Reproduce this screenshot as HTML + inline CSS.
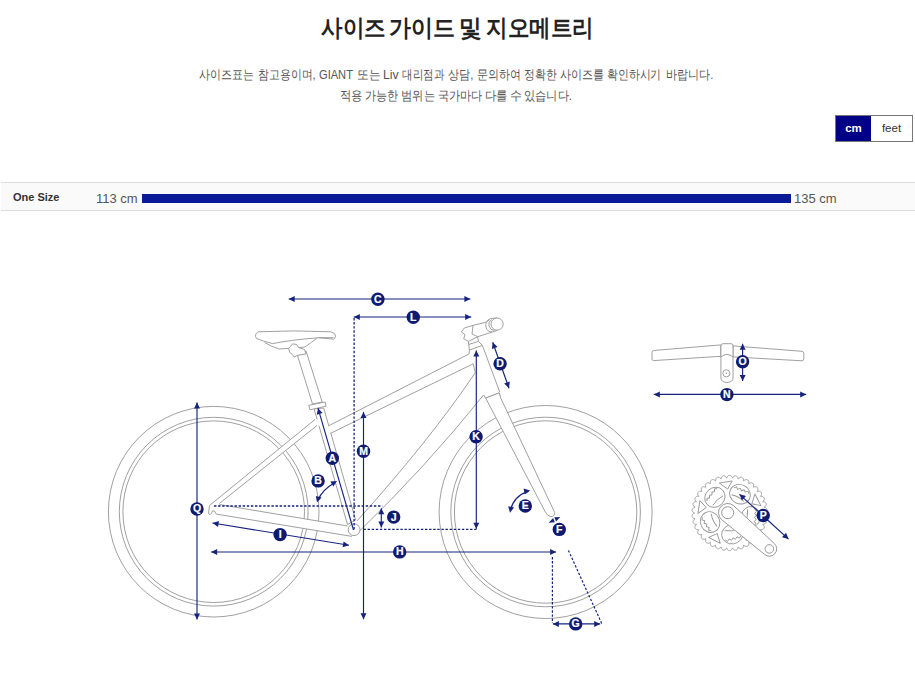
<!DOCTYPE html>
<html><head><meta charset="utf-8">
<style>
html,body{margin:0;padding:0;background:#fff;width:915px;height:674px;overflow:hidden;font-family:"Liberation Sans",sans-serif;color:#333;position:relative;}
.w{position:absolute;white-space:nowrap;line-height:1;transform-origin:0 0;}
#tog{position:absolute;left:835px;top:115px;width:78px;height:27px;border:1px solid #777;box-sizing:border-box;font-size:11px;}
#tog .cm{position:absolute;left:0;top:0;width:35px;height:25px;background:#000087;color:#fff;text-align:center;line-height:25px;font-weight:bold;font-size:11.5px;}
#tog .ft{position:absolute;left:35px;top:0;width:41px;height:25px;color:#333;text-align:center;line-height:25px;font-size:11.5px;}
#row{position:absolute;left:1px;top:182px;width:914px;height:29px;border-top:1px solid #ddd;border-bottom:1px solid #ddd;background:#fafafa;box-sizing:border-box;}
#row .lab{position:absolute;left:12px;top:8px;font-size:11px;font-weight:bold;color:#333;}
#row .v1{position:absolute;left:95px;top:8px;font-size:13px;color:#555;}
#row .v2{position:absolute;left:793px;top:8px;font-size:13px;color:#555;}
#row .bar{position:absolute;left:141px;top:11px;width:649px;height:9px;background:#0a1a99;}
svg{position:absolute;left:0;top:0;}
</style></head><body>
<span class="w" style="left:320.5px;top:16px;font-size:24px;font-weight:bold;transform:scaleX(0.8971);color:#222">사이즈</span>
<span class="w" style="left:389.4px;top:16px;font-size:24px;font-weight:bold;transform:scaleX(0.9171);color:#222">가이드</span>
<span class="w" style="left:458.8px;top:16px;font-size:24px;font-weight:bold;transform:scaleX(0.9429);color:#222">및</span>
<span class="w" style="left:485.8px;top:16px;font-size:24px;font-weight:bold;transform:scaleX(0.8966);color:#222">지오메트리</span>
<span class="w" style="left:199.2px;top:68px;font-size:13px;font-weight:normal;transform:scaleX(0.8444);color:#555">사이즈표는</span>
<span class="w" style="left:258.3px;top:68px;font-size:13px;font-weight:normal;transform:scaleX(0.8388);color:#555">참고용이며,</span>
<span class="w" style="left:319.4px;top:68px;font-size:13px;font-weight:normal;transform:scaleX(0.8538);color:#555">GIANT</span>
<span class="w" style="left:356.6px;top:68px;font-size:13px;font-weight:normal;transform:scaleX(0.9043);color:#555">또는</span>
<span class="w" style="left:382.8px;top:68px;font-size:13px;font-weight:normal;transform:scaleX(0.9467);color:#555">Liv</span>
<span class="w" style="left:402.2px;top:68px;font-size:13px;font-weight:normal;transform:scaleX(0.808);color:#555">대리점과</span>
<span class="w" style="left:448.1px;top:68px;font-size:13px;font-weight:normal;transform:scaleX(0.8571);color:#555">상담,</span>
<span class="w" style="left:476.7px;top:68px;font-size:13px;font-weight:normal;transform:scaleX(0.8469);color:#555">문의하여</span>
<span class="w" style="left:524.2px;top:68px;font-size:13px;font-weight:normal;transform:scaleX(0.8351);color:#555">정확한</span>
<span class="w" style="left:560.0px;top:68px;font-size:13px;font-weight:normal;transform:scaleX(0.852);color:#555">사이즈를</span>
<span class="w" style="left:606.9px;top:68px;font-size:13px;font-weight:normal;transform:scaleX(0.8355);color:#555">확인하시기</span>
<span class="w" style="left:665.9px;top:68px;font-size:13px;font-weight:normal;transform:scaleX(0.85);color:#555">바랍니다.</span>
<span class="w" style="left:340.3px;top:89px;font-size:13px;font-weight:normal;transform:scaleX(0.875);color:#555">적용</span>
<span class="w" style="left:365.2px;top:89px;font-size:13px;font-weight:normal;transform:scaleX(0.8514);color:#555">가능한</span>
<span class="w" style="left:401.3px;top:89px;font-size:13px;font-weight:normal;transform:scaleX(0.8676);color:#555">범위는</span>
<span class="w" style="left:438.0px;top:89px;font-size:13px;font-weight:normal;transform:scaleX(0.858);color:#555">국가마다</span>
<span class="w" style="left:484.8px;top:89px;font-size:13px;font-weight:normal;transform:scaleX(0.875);color:#555">다를</span>
<span class="w" style="left:510.4px;top:89px;font-size:13px;font-weight:normal;transform:scaleX(0.92);color:#555">수</span>
<span class="w" style="left:524.2px;top:89px;font-size:13px;font-weight:normal;transform:scaleX(0.8611);color:#555">있습니다.</span>
<div id="tog"><div class="cm">cm</div><div class="ft">feet</div></div>
<div id="row"><div class="lab">One Size</div><div class="v1">113 cm</div><div class="bar"></div><div class="v2">135 cm</div></div>
<svg width="915" height="674" viewBox="0 0 915 674"><circle cx="213.7" cy="511.7" r="105.3" fill="none" stroke="#959595" stroke-width="0.9"/><circle cx="213.7" cy="511.7" r="94.4" fill="none" stroke="#959595" stroke-width="0.9"/><circle cx="213.7" cy="511.7" r="90.8" fill="none" stroke="#959595" stroke-width="0.9"/><circle cx="545.6" cy="512" r="106.5" fill="none" stroke="#959595" stroke-width="0.9"/><circle cx="545.6" cy="512" r="94.8" fill="none" stroke="#959595" stroke-width="0.9"/><circle cx="545.6" cy="512" r="91.2" fill="none" stroke="#959595" stroke-width="0.9"/><path d="M314.1,408.9 L347.5,524.5 L355.6,520 L323.7,408 Z" fill="#fff" stroke="#959595" stroke-width="0.9" stroke-linejoin="round"/><path d="M209.5,505.5 L315,419.5 L320,419 L321,426 L317,425.5 L219.3,503.5 Z" fill="#fff" stroke="none"/><path d="M209.5,505.5 L315,419.5 M317,425.5 L219.3,503.5" fill="none" stroke="#959595" stroke-width="0.9" stroke-linejoin="round"/><path d="M212,510 L219.3,504.5 L347.5,526 L357,532 L351.9,536.4 L216.3,514.1 Z" fill="#fff" stroke="none"/><path d="M219.3,504.5 L347.5,526 M351.9,536.4 L216.3,514.1" fill="none" stroke="#959595" stroke-width="0.9" stroke-linejoin="round"/><path d="M209.5,505.5 L208.5,513.5 Q210,516 211.5,513 Q212,510 214.5,511 L216.3,514.1" fill="none" stroke="#959595" stroke-width="0.9" stroke-linejoin="round"/><path d="M325,427.5 L469.1,353.9 L469.4,350 L468.4,341.4 L477.7,336.7 L478.4,341.4 L482.4,345.4 L499.7,391.9 L500.2,396.5 L485.7,398.1 L483.6,395 Q425.1,467.9 357.8,532.7 L357.1,520.8 Q429.5,440.5 475.3,372.7 L473.2,363.8 L327,435 Z" fill="#fff" stroke="none"/><path d="M328.2,426 L469.1,353.9 L469.4,350 L468.4,341.4" fill="none" stroke="#959595" stroke-width="0.9" stroke-linejoin="round"/><path d="M330.4,433.4 L473.2,363.8 L475.3,372.7 Q429.5,440.5 357.1,520.8" fill="none" stroke="#959595" stroke-width="0.9" stroke-linejoin="round"/><path d="M357.8,532.7 Q425.1,467.9 483.6,395 L485.7,398.1 L499.2,392.9 L500.2,396.5" fill="none" stroke="#959595" stroke-width="0.9" stroke-linejoin="round"/><path d="M477.7,336.7 L478.4,341.4 L482.4,345.4 L499.7,391.9" fill="none" stroke="#959595" stroke-width="0.9" stroke-linejoin="round"/><path d="M469,344.4 L478.4,341.4 M469.4,350 L482.4,345.4" fill="none" stroke="#959595" stroke-width="0.9" stroke-linejoin="round"/><path d="M485.7,398.1 L499.2,392.9 L500.2,396.5 L500.7,398 L554.6,512.3 Q555,516.5 550.8,516.6 Q547,516 544.9,511.2 Z" fill="#fff" stroke="#959595" stroke-width="0.9" stroke-linejoin="round"/><circle cx="354.1" cy="529.7" r="5.9" fill="#fff" stroke="#959595" stroke-width="0.9" stroke-linejoin="round"/><path d="M297.5,355.5 L312.5,404 L322.2,402 L306,351 Z" fill="#fff" stroke="#959595" stroke-width="0.9" stroke-linejoin="round"/><path d="M308.8,405.3 L325.1,402 L326,406.2 L310,409.8 Z" fill="#fff" stroke="#959595" stroke-width="0.9" stroke-linejoin="round"/><path d="M264.7,342.6 Q272,347 279.5,349 L305,347 Q312,342 316.9,338.2" fill="none" stroke="#959595" stroke-width="0.9" stroke-linejoin="round"/><path d="M257.9,331.8 Q295,330 330.6,331.8 Q336,333 335.5,336 Q335,339 333.6,339.2 L318.8,337.7 Q290,340 272.6,343.6 Q262,341 256.5,338.5 Q254,335 257.9,331.8 Z" fill="#fff" stroke="#959595" stroke-width="0.9" stroke-linejoin="round"/><path d="M318.8,337.7 L333.6,337.7" fill="none" stroke="#959595" stroke-width="0.9" stroke-linejoin="round"/><path d="M297.2,355.4 L306,353.9 L304.5,349.5 L298.5,347.5 L296.5,344.5 L292.5,343.8 L290.5,346.5 L288.6,348.5 L289.8,352.5 L292.5,354.5 L294.2,357 Z" fill="#fff" stroke="#959595" stroke-width="0.9" stroke-linejoin="round"/><path d="M473,325.4 L485.7,322.3 Q488,320 490.5,318.5 L497,318 L503,324 L497,330.5 L492.4,332 L477.7,336.7 L468.4,341.4 L463.7,338.7 L465,334.7 L461.3,332 L464.3,328 Z" fill="#fff" stroke="#959595" stroke-width="0.9" stroke-linejoin="round"/><path d="M473,325.4 L472,334 L477.7,336.7" fill="none" stroke="#959595" stroke-width="0.9" stroke-linejoin="round"/><circle cx="497.1" cy="324.1" r="6.1" fill="#fff" stroke="#959595" stroke-width="0.9" stroke-linejoin="round"/><path d="M491.5,319.5 A6,6 0 0 0 494.5,330.5 M489.8,319.5 A6.5,6.5 0 0 0 492.4,332" fill="none" stroke="#959595" stroke-width="0.9" stroke-linejoin="round"/><path d="M653.5,350.5 L720.8,344.9 L720.8,356.3 L653.5,360.6 Q652,360.6 652,359 L652,352.2 Q652,350.6 653.5,350.5 Z" fill="#fff" stroke="#959595" stroke-width="0.9" stroke-linejoin="round"/><path d="M733,345.9 L802,351.3 Q803.8,351.6 803.8,353.5 L803.8,359 Q803.6,360.8 802,360.8 L733,356.9 Z" fill="#fff" stroke="#959595" stroke-width="0.9" stroke-linejoin="round"/><path d="M720.9,346 Q720.9,343.7 723,343.7 L731,343.7 Q733,343.7 733,346 L733,378 Q733,382 727,382.5 Q720.9,382 720.9,378 Z" fill="#fff" stroke="#959595" stroke-width="0.9" stroke-linejoin="round"/><path d="M720.9,356.9 Q727,352 733,356.9" fill="none" stroke="#959595" stroke-width="0.9" stroke-linejoin="round"/><circle cx="726.4" cy="373.3" r="3.6" fill="none" stroke="#959595" stroke-width="0.9" stroke-linejoin="round"/><circle cx="726.4" cy="373.3" r="0.8" fill="#959595"/><polygon points="764.60,513.00 765.64,513.50 766.25,514.01 766.69,514.53 766.98,515.06 767.15,515.59 767.17,516.11 767.06,516.62 766.81,517.12 766.43,517.59 765.91,518.04 765.23,518.44 764.12,518.76 765.07,519.42 765.58,520.03 765.93,520.62 766.14,521.19 766.21,521.74 766.15,522.25 765.95,522.74 765.63,523.19 765.18,523.59 764.59,523.94 763.85,524.23 762.70,524.36 763.53,525.17 763.93,525.86 764.18,526.49 764.29,527.09 764.27,527.64 764.12,528.14 763.85,528.59 763.46,528.98 762.95,529.30 762.31,529.55 761.54,529.72 760.38,529.66 761.06,530.59 761.35,531.33 761.49,532.00 761.50,532.61 761.39,533.15 761.16,533.62 760.82,534.02 760.37,534.33 759.81,534.57 759.14,534.71 758.35,534.75 757.22,534.50 757.74,535.53 757.90,536.31 757.92,536.99 757.83,537.59 757.64,538.11 757.34,538.53 756.94,538.87 756.44,539.11 755.85,539.25 755.16,539.28 754.38,539.18 753.30,538.75 753.65,539.86 753.68,540.65 753.59,541.32 753.40,541.90 753.12,542.38 752.76,542.75 752.30,543.02 751.77,543.17 751.17,543.21 750.49,543.13 749.73,542.90 748.74,542.30 748.90,543.45 748.80,544.23 748.60,544.89 748.32,545.43 747.97,545.85 747.54,546.16 747.05,546.34 746.51,546.41 745.90,546.35 745.25,546.16 744.53,545.81 743.66,545.05 743.62,546.21 743.40,546.97 743.09,547.58 742.73,548.06 742.31,548.42 741.84,548.66 741.33,548.76 740.78,548.73 740.19,548.58 739.58,548.28 738.93,547.82 738.19,546.93 737.97,548.06 737.62,548.77 737.22,549.33 736.78,549.75 736.31,550.03 735.81,550.19 735.28,550.20 734.74,550.09 734.19,549.83 733.63,549.44 733.07,548.88 732.49,547.88 732.08,548.96 731.62,549.61 731.13,550.09 730.63,550.43 730.12,550.63 729.60,550.70 729.08,550.63 728.57,550.43 728.07,550.09 727.58,549.61 727.12,548.96 726.71,547.88 726.13,548.88 725.57,549.44 725.01,549.83 724.46,550.09 723.92,550.20 723.39,550.19 722.89,550.03 722.42,549.75 721.98,549.33 721.58,548.77 721.23,548.06 721.01,546.93 720.27,547.82 719.62,548.28 719.01,548.58 718.42,548.73 717.87,548.76 717.36,548.66 716.89,548.42 716.47,548.06 716.11,547.58 715.80,546.97 715.58,546.21 715.54,545.05 714.67,545.81 713.95,546.16 713.30,546.35 712.69,546.41 712.15,546.34 711.66,546.16 711.23,545.85 710.88,545.43 710.60,544.89 710.40,544.23 710.30,543.45 710.46,542.30 709.47,542.90 708.71,543.13 708.03,543.21 707.43,543.17 706.90,543.02 706.44,542.75 706.08,542.38 705.80,541.90 705.61,541.32 705.52,540.65 705.55,539.86 705.90,538.75 704.82,539.18 704.04,539.28 703.35,539.25 702.76,539.11 702.26,538.87 701.86,538.53 701.56,538.11 701.37,537.59 701.28,536.99 701.30,536.31 701.46,535.53 701.98,534.50 700.85,534.75 700.06,534.71 699.39,534.57 698.83,534.33 698.38,534.02 698.04,533.62 697.81,533.15 697.70,532.61 697.71,532.00 697.85,531.33 698.14,530.59 698.82,529.66 697.66,529.72 696.89,529.55 696.25,529.30 695.74,528.98 695.35,528.59 695.08,528.14 694.93,527.64 694.91,527.09 695.02,526.49 695.27,525.86 695.67,525.17 696.50,524.36 695.35,524.23 694.61,523.94 694.02,523.59 693.57,523.19 693.25,522.74 693.05,522.25 692.99,521.74 693.06,521.19 693.27,520.62 693.62,520.03 694.13,519.42 695.08,518.76 693.97,518.44 693.29,518.04 692.77,517.59 692.39,517.12 692.14,516.62 692.03,516.11 692.05,515.59 692.22,515.06 692.51,514.53 692.95,514.01 693.56,513.50 694.60,513.00 693.56,512.50 692.95,511.99 692.51,511.47 692.22,510.94 692.05,510.41 692.03,509.89 692.14,509.38 692.39,508.88 692.77,508.41 693.29,507.96 693.97,507.56 695.08,507.24 694.13,506.58 693.62,505.97 693.27,505.38 693.06,504.81 692.99,504.26 693.05,503.75 693.25,503.26 693.57,502.81 694.02,502.41 694.61,502.06 695.35,501.77 696.50,501.64 695.67,500.83 695.27,500.14 695.02,499.51 694.91,498.91 694.93,498.36 695.08,497.86 695.35,497.41 695.74,497.02 696.25,496.70 696.89,496.45 697.66,496.28 698.82,496.34 698.14,495.41 697.85,494.67 697.71,494.00 697.70,493.39 697.81,492.85 698.04,492.38 698.38,491.98 698.83,491.67 699.39,491.43 700.06,491.29 700.85,491.25 701.98,491.50 701.46,490.47 701.30,489.69 701.28,489.01 701.37,488.41 701.56,487.89 701.86,487.47 702.26,487.13 702.76,486.89 703.35,486.75 704.04,486.72 704.82,486.82 705.90,487.25 705.55,486.14 705.52,485.35 705.61,484.68 705.80,484.10 706.08,483.62 706.44,483.25 706.90,482.98 707.43,482.83 708.03,482.79 708.71,482.87 709.47,483.10 710.46,483.70 710.30,482.55 710.40,481.77 710.60,481.11 710.88,480.57 711.23,480.15 711.66,479.84 712.15,479.66 712.69,479.59 713.30,479.65 713.95,479.84 714.67,480.19 715.54,480.95 715.58,479.79 715.80,479.03 716.11,478.42 716.47,477.94 716.89,477.58 717.36,477.34 717.87,477.24 718.42,477.27 719.01,477.42 719.62,477.72 720.27,478.18 721.01,479.07 721.23,477.94 721.58,477.23 721.98,476.67 722.42,476.25 722.89,475.97 723.39,475.81 723.92,475.80 724.46,475.91 725.01,476.17 725.57,476.56 726.13,477.12 726.71,478.12 727.12,477.04 727.58,476.39 728.07,475.91 728.57,475.57 729.08,475.37 729.60,475.30 730.12,475.37 730.63,475.57 731.13,475.91 731.62,476.39 732.08,477.04 732.49,478.12 733.07,477.12 733.63,476.56 734.19,476.17 734.74,475.91 735.28,475.80 735.81,475.81 736.31,475.97 736.78,476.25 737.22,476.67 737.62,477.23 737.97,477.94 738.19,479.07 738.93,478.18 739.58,477.72 740.19,477.42 740.78,477.27 741.33,477.24 741.84,477.34 742.31,477.58 742.73,477.94 743.09,478.42 743.40,479.03 743.62,479.79 743.66,480.95 744.53,480.19 745.25,479.84 745.90,479.65 746.51,479.59 747.05,479.66 747.54,479.84 747.97,480.15 748.32,480.57 748.60,481.11 748.80,481.77 748.90,482.55 748.74,483.70 749.73,483.10 750.49,482.87 751.17,482.79 751.77,482.83 752.30,482.98 752.76,483.25 753.12,483.62 753.40,484.10 753.59,484.68 753.68,485.35 753.65,486.14 753.30,487.25 754.38,486.82 755.16,486.72 755.85,486.75 756.44,486.89 756.94,487.13 757.34,487.47 757.64,487.89 757.83,488.41 757.92,489.01 757.90,489.69 757.74,490.47 757.22,491.50 758.35,491.25 759.14,491.29 759.81,491.43 760.37,491.67 760.82,491.98 761.16,492.38 761.39,492.85 761.50,493.39 761.49,494.00 761.35,494.67 761.06,495.41 760.38,496.34 761.54,496.28 762.31,496.45 762.95,496.70 763.46,497.02 763.85,497.41 764.12,497.86 764.27,498.36 764.29,498.91 764.18,499.51 763.93,500.14 763.53,500.83 762.70,501.64 763.85,501.77 764.59,502.06 765.18,502.41 765.63,502.81 765.95,503.26 766.15,503.75 766.21,504.26 766.14,504.81 765.93,505.38 765.58,505.97 765.07,506.58 764.12,507.24 765.23,507.56 765.91,507.96 766.43,508.41 766.81,508.88 767.06,509.38 767.17,509.89 767.15,510.41 766.98,510.94 766.69,511.47 766.25,511.99 765.64,512.50" fill="#fff" stroke="#959595" stroke-width="0.85" stroke-linejoin="round"/><ellipse cx="714.9" cy="497.3" rx="10.6" ry="9.6" transform="rotate(-43.0 714.9 497.3)" fill="none" stroke="#959595" stroke-width="0.9" stroke-linejoin="round"/><g transform="translate(714.9,497.3) rotate(-43.0)"><path d="M-8.5,-2.5 l2,-2.2 l2,1.6 l2,-2.2 l2,1.6 l2,-2.2 l2,1.6 l2,-2.2 l2,1.6" fill="none" stroke="#959595" stroke-width="0.9" stroke-linejoin="round"/><path d="M-7,4.5 Q0,2.5 7,4.5" fill="none" stroke="#959595" stroke-width="0.9" stroke-linejoin="round"/></g><path d="M-6.5,-3.5 L6.5,-4 L1,3.5 Z" transform="translate(726.2,485.7) rotate(-7.0)" fill="none" stroke="#959595" stroke-width="0.9" stroke-linejoin="round"/><ellipse cx="740.0" cy="494.2" rx="10.6" ry="9.6" transform="rotate(29.0 740.0 494.2)" fill="none" stroke="#959595" stroke-width="0.9" stroke-linejoin="round"/><g transform="translate(740.0,494.2) rotate(29.0)"><path d="M-8.5,-2.5 l2,-2.2 l2,1.6 l2,-2.2 l2,1.6 l2,-2.2 l2,1.6 l2,-2.2 l2,1.6" fill="none" stroke="#959595" stroke-width="0.9" stroke-linejoin="round"/><path d="M-7,4.5 Q0,2.5 7,4.5" fill="none" stroke="#959595" stroke-width="0.9" stroke-linejoin="round"/></g><path d="M-6.5,-3.5 L6.5,-4 L1,3.5 Z" transform="translate(754.5,501.4) rotate(65.0)" fill="none" stroke="#959595" stroke-width="0.9" stroke-linejoin="round"/><ellipse cx="750.7" cy="517.1" rx="10.6" ry="9.6" transform="rotate(101.0 750.7 517.1)" fill="none" stroke="#959595" stroke-width="0.9" stroke-linejoin="round"/><g transform="translate(750.7,517.1) rotate(101.0)"><path d="M-8.5,-2.5 l2,-2.2 l2,1.6 l2,-2.2 l2,1.6 l2,-2.2 l2,1.6 l2,-2.2 l2,1.6" fill="none" stroke="#959595" stroke-width="0.9" stroke-linejoin="round"/><path d="M-7,4.5 Q0,2.5 7,4.5" fill="none" stroke="#959595" stroke-width="0.9" stroke-linejoin="round"/></g><path d="M-6.5,-3.5 L6.5,-4 L1,3.5 Z" transform="translate(748.4,533.1) rotate(137.0)" fill="none" stroke="#959595" stroke-width="0.9" stroke-linejoin="round"/><ellipse cx="732.2" cy="534.3" rx="10.6" ry="9.6" transform="rotate(173.0 732.2 534.3)" fill="none" stroke="#959595" stroke-width="0.9" stroke-linejoin="round"/><g transform="translate(732.2,534.3) rotate(173.0)"><path d="M-8.5,-2.5 l2,-2.2 l2,1.6 l2,-2.2 l2,1.6 l2,-2.2 l2,1.6 l2,-2.2 l2,1.6" fill="none" stroke="#959595" stroke-width="0.9" stroke-linejoin="round"/><path d="M-7,4.5 Q0,2.5 7,4.5" fill="none" stroke="#959595" stroke-width="0.9" stroke-linejoin="round"/></g><path d="M-6.5,-3.5 L6.5,-4 L1,3.5 Z" transform="translate(716.3,537.1) rotate(209.0)" fill="none" stroke="#959595" stroke-width="0.9" stroke-linejoin="round"/><ellipse cx="710.1" cy="522.1" rx="10.6" ry="9.6" transform="rotate(245.0 710.1 522.1)" fill="none" stroke="#959595" stroke-width="0.9" stroke-linejoin="round"/><g transform="translate(710.1,522.1) rotate(245.0)"><path d="M-8.5,-2.5 l2,-2.2 l2,1.6 l2,-2.2 l2,1.6 l2,-2.2 l2,1.6 l2,-2.2 l2,1.6" fill="none" stroke="#959595" stroke-width="0.9" stroke-linejoin="round"/><path d="M-7,4.5 Q0,2.5 7,4.5" fill="none" stroke="#959595" stroke-width="0.9" stroke-linejoin="round"/></g><path d="M-6.5,-3.5 L6.5,-4 L1,3.5 Z" transform="translate(702.6,507.8) rotate(281.0)" fill="none" stroke="#959595" stroke-width="0.9" stroke-linejoin="round"/><g transform="translate(727.7,512.7) rotate(40.96)"><path d="M0,-9.2 L55.2,-7.3 A7.3,7.3 0 0 1 55.2,7.3 L0,9.2 A9.2,9.2 0 0 1 0,-9.2 Z" fill="#fff" stroke="#959595" stroke-width="0.9" stroke-linejoin="round"/><circle cx="0" cy="0" r="6" fill="none" stroke="#959595" stroke-width="0.9" stroke-linejoin="round"/><circle cx="55.2" cy="0" r="4.3" fill="none" stroke="#959595" stroke-width="0.9" stroke-linejoin="round"/></g><line x1="288.7" y1="299" x2="470.4" y2="299" stroke="#16237e" stroke-width="1.15"/><path d="M288.7,299.0L294.7,296.0L294.7,302.0Z" fill="#16237e"/><path d="M470.4,299.0L464.4,302.0L464.4,296.0Z" fill="#16237e"/><circle cx="377.9" cy="299.2" r="6.7" fill="#0f1b70"/><text x="377.9" y="302.59999999999997" text-anchor="middle" font-family="Liberation Sans, sans-serif" font-weight="bold" font-size="10.5" fill="#fff" stroke="#fff" stroke-width="0.2">C</text><line x1="353.8" y1="317" x2="471.2" y2="317" stroke="#16237e" stroke-width="1.15"/><path d="M353.8,317.0L359.8,314.0L359.8,320.0Z" fill="#16237e"/><path d="M471.2,317.0L465.2,320.0L465.2,314.0Z" fill="#16237e"/><circle cx="413.3" cy="317.2" r="6.7" fill="#0f1b70"/><text x="413.3" y="320.59999999999997" text-anchor="middle" font-family="Liberation Sans, sans-serif" font-weight="bold" font-size="10.5" fill="#fff" stroke="#fff" stroke-width="0.2">L</text><line x1="354.1" y1="318" x2="354.1" y2="530" stroke="#16237e" stroke-width="1.3" stroke-dasharray="2.4,1.7"/><line x1="214" y1="506" x2="382.3" y2="506" stroke="#16237e" stroke-width="1.3" stroke-dasharray="2.4,1.7"/><line x1="363.5" y1="529.4" x2="476.5" y2="529.4" stroke="#16237e" stroke-width="1.3" stroke-dasharray="2.4,1.7"/><line x1="318" y1="408.2" x2="353.5" y2="530" stroke="#16237e" stroke-width="1.15"/><path d="M318.0,408.2L322.6,413.1L316.8,414.8Z" fill="#16237e"/><circle cx="332.3" cy="458.2" r="6.7" fill="#0f1b70"/><text x="332.3" y="461.59999999999997" text-anchor="middle" font-family="Liberation Sans, sans-serif" font-weight="bold" font-size="10.5" fill="#fff" stroke="#fff" stroke-width="0.2">A</text><line x1="363.5" y1="411.9" x2="363.5" y2="619.3" stroke="#16237e" stroke-width="1.15"/><path d="M363.5,411.9L366.5,417.9L360.5,417.9Z" fill="#16237e"/><path d="M363.5,619.3L360.5,613.3L366.5,613.3Z" fill="#16237e"/><circle cx="363.5" cy="451.2" r="6.7" fill="#0f1b70"/><text x="363.5" y="454.59999999999997" text-anchor="middle" font-family="Liberation Sans, sans-serif" font-weight="bold" font-size="10.5" fill="#fff" stroke="#fff" stroke-width="0.2">M</text><line x1="197" y1="402.5" x2="197" y2="619.4" stroke="#16237e" stroke-width="1.15"/><path d="M197.0,402.5L200.0,408.5L194.0,408.5Z" fill="#16237e"/><path d="M197.0,619.4L194.0,613.4L200.0,613.4Z" fill="#16237e"/><circle cx="197" cy="509" r="6.7" fill="#0f1b70"/><text x="197" y="512.4" text-anchor="middle" font-family="Liberation Sans, sans-serif" font-weight="bold" font-size="10.5" fill="#fff" stroke="#fff" stroke-width="0.2">Q</text><line x1="212.6" y1="523" x2="349" y2="545.3" stroke="#16237e" stroke-width="1.15"/><path d="M212.6,523.0L219.0,521.0L218.0,526.9Z" fill="#16237e"/><path d="M349.0,545.3L342.6,547.3L343.6,541.4Z" fill="#16237e"/><circle cx="280.1" cy="534.6" r="6.7" fill="#0f1b70"/><text x="280.1" y="538.0" text-anchor="middle" font-family="Liberation Sans, sans-serif" font-weight="bold" font-size="10.5" fill="#fff" stroke="#fff" stroke-width="0.2">I</text><line x1="211.1" y1="552" x2="556.1" y2="552" stroke="#16237e" stroke-width="1.15"/><path d="M211.1,552.0L217.1,549.0L217.1,555.0Z" fill="#16237e"/><path d="M556.1,552.0L550.1,555.0L550.1,549.0Z" fill="#16237e"/><circle cx="399.7" cy="551.9" r="6.7" fill="#0f1b70"/><text x="399.7" y="555.3" text-anchor="middle" font-family="Liberation Sans, sans-serif" font-weight="bold" font-size="10.5" fill="#fff" stroke="#fff" stroke-width="0.2">H</text><line x1="381.3" y1="508.2" x2="381.3" y2="527.5" stroke="#16237e" stroke-width="1.15"/><path d="M381.3,508.2L384.3,514.2L378.3,514.2Z" fill="#16237e"/><path d="M381.3,527.5L378.3,521.5L384.3,521.5Z" fill="#16237e"/><circle cx="393.7" cy="517.1" r="6.7" fill="#0f1b70"/><text x="393.7" y="520.5" text-anchor="middle" font-family="Liberation Sans, sans-serif" font-weight="bold" font-size="10.5" fill="#fff" stroke="#fff" stroke-width="0.2">J</text><line x1="476.3" y1="350.4" x2="476.3" y2="528.7" stroke="#16237e" stroke-width="1.15"/><path d="M476.3,350.4L479.3,356.4L473.3,356.4Z" fill="#16237e"/><path d="M476.3,528.7L473.3,522.7L479.3,522.7Z" fill="#16237e"/><circle cx="476.1" cy="436.8" r="6.7" fill="#0f1b70"/><text x="476.1" y="440.2" text-anchor="middle" font-family="Liberation Sans, sans-serif" font-weight="bold" font-size="10.5" fill="#fff" stroke="#fff" stroke-width="0.2">K</text><line x1="492.7" y1="342.3" x2="509" y2="388.3" stroke="#16237e" stroke-width="1.15"/><path d="M492.7,342.3L497.5,347.0L491.9,349.0Z" fill="#16237e"/><path d="M509.0,388.3L504.2,383.6L509.8,381.6Z" fill="#16237e"/><circle cx="500.1" cy="363.8" r="6.7" fill="#0f1b70"/><text x="500.1" y="367.2" text-anchor="middle" font-family="Liberation Sans, sans-serif" font-weight="bold" font-size="10.5" fill="#fff" stroke="#fff" stroke-width="0.2">D</text><path d="M335,482.5 Q322,490 318,500" fill="none" stroke="#16237e" stroke-width="1.3"/><path d="M337.0,481.0L333.3,486.6L330.3,481.4Z" fill="#16237e"/><path d="M317.0,502.5L315.9,495.9L321.6,497.6Z" fill="#16237e"/><circle cx="318.1" cy="480.9" r="6.7" fill="#0f1b70"/><text x="318.1" y="484.29999999999995" text-anchor="middle" font-family="Liberation Sans, sans-serif" font-weight="bold" font-size="10.5" fill="#fff" stroke="#fff" stroke-width="0.2">B</text><path d="M528.5,491.2 Q514,496 510.5,510" fill="none" stroke="#16237e" stroke-width="1.3"/><path d="M530.1,490.4L524.8,494.5L523.6,488.6Z" fill="#16237e"/><path d="M510.0,512.7L508.2,506.2L514.1,507.4Z" fill="#16237e"/><circle cx="525.3" cy="506" r="6.7" fill="#0f1b70"/><text x="525.3" y="509.4" text-anchor="middle" font-family="Liberation Sans, sans-serif" font-weight="bold" font-size="10.5" fill="#fff" stroke="#fff" stroke-width="0.2">E</text><path d="M548.6,522.8 L554.9,522.3 L553.1,518.1 Z M554.3,517.2 L560.2,516.9 L556.1,521.4 Z" fill="#16237e"/><circle cx="559.3" cy="529.4" r="6.7" fill="#0f1b70"/><text x="559.3" y="532.8" text-anchor="middle" font-family="Liberation Sans, sans-serif" font-weight="bold" font-size="10.5" fill="#fff" stroke="#fff" stroke-width="0.2">F</text><line x1="552.4" y1="557" x2="552.4" y2="623" stroke="#16237e" stroke-width="1.2" stroke-dasharray="2.4,1.7"/><line x1="568.4" y1="550.4" x2="601.9" y2="623.9" stroke="#16237e" stroke-width="1.2" stroke-dasharray="2.4,1.7"/><line x1="552.9" y1="623.9" x2="600.2" y2="623.9" stroke="#16237e" stroke-width="1.15"/><path d="M552.9,623.9L558.9,620.9L558.9,626.9Z" fill="#16237e"/><path d="M600.2,623.9L594.2,626.9L594.2,620.9Z" fill="#16237e"/><circle cx="575.7" cy="623.9" r="6.7" fill="#0f1b70"/><text x="575.7" y="627.3" text-anchor="middle" font-family="Liberation Sans, sans-serif" font-weight="bold" font-size="10.5" fill="#fff" stroke="#fff" stroke-width="0.2">G</text><line x1="653.8" y1="394.4" x2="806.2" y2="394.4" stroke="#16237e" stroke-width="1.15"/><path d="M653.8,394.4L659.8,391.4L659.8,397.4Z" fill="#16237e"/><path d="M806.2,394.4L800.2,397.4L800.2,391.4Z" fill="#16237e"/><circle cx="726.9" cy="394.6" r="6.7" fill="#0f1b70"/><text x="726.9" y="398.0" text-anchor="middle" font-family="Liberation Sans, sans-serif" font-weight="bold" font-size="10.5" fill="#fff" stroke="#fff" stroke-width="0.2">N</text><line x1="742.6" y1="343.7" x2="742.6" y2="380.9" stroke="#16237e" stroke-width="1.15"/><path d="M742.6,343.7L745.6,349.7L739.6,349.7Z" fill="#16237e"/><path d="M742.6,380.9L739.6,374.9L745.6,374.9Z" fill="#16237e"/><circle cx="742.6" cy="361.8" r="6.7" fill="#0f1b70"/><text x="742.6" y="365.2" text-anchor="middle" font-family="Liberation Sans, sans-serif" font-weight="bold" font-size="10.5" fill="#fff" stroke="#fff" stroke-width="0.2">O</text><line x1="739.5" y1="494.3" x2="788.5" y2="539.1" stroke="#16237e" stroke-width="1.15"/><path d="M739.5,494.3L746.0,496.1L741.9,500.6Z" fill="#16237e"/><path d="M788.5,539.1L782.0,537.3L786.1,532.8Z" fill="#16237e"/><circle cx="763.2" cy="515.5" r="6.7" fill="#0f1b70"/><text x="763.2" y="518.9" text-anchor="middle" font-family="Liberation Sans, sans-serif" font-weight="bold" font-size="10.5" fill="#fff" stroke="#fff" stroke-width="0.2">P</text></svg>
</body></html>
